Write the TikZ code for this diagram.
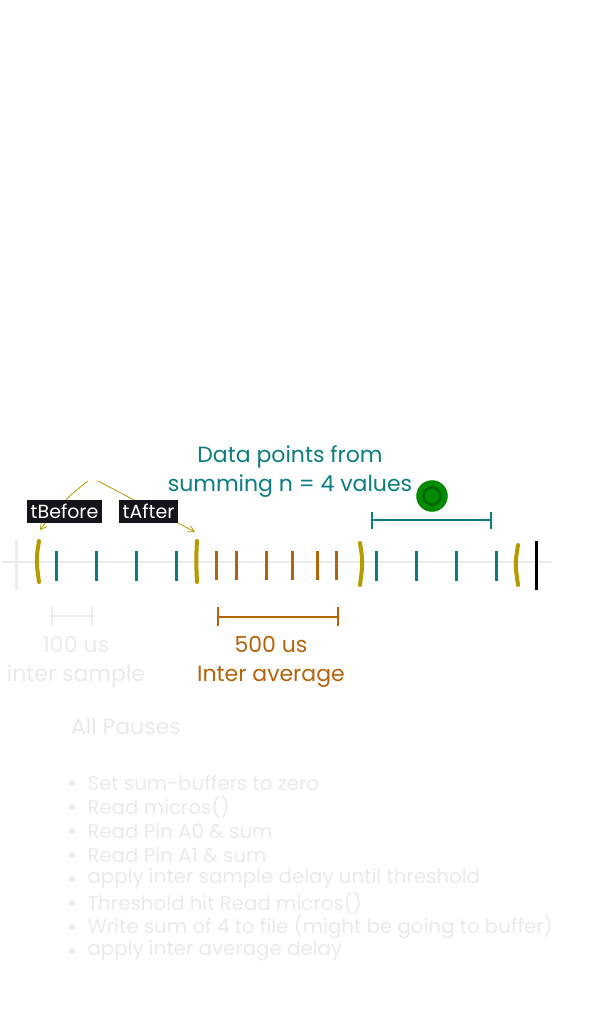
\documentclass[tikz,border=0pt]{standalone}
\usepackage{xcolor}
\usepackage{fontspec}
\setmainfont{Poppins}
\usepackage{tikz}
\usetikzlibrary{arrows.meta, positioning, calc}

\definecolor{goldline}{RGB}{181,155,0}
\definecolor{tealmark}{RGB}{11,125,128}
\definecolor{orangemark}{RGB}{182,98,10}
\definecolor{paleline}{RGB}{236,236,236}
\definecolor{paletext}{RGB}{234,234,234}
\definecolor{tagbg}{RGB}{22,19,27}
\definecolor{dotgreen}{RGB}{0,138,0}
\definecolor{dotring}{RGB}{0,95,0}

\tikzstyle{arrow} = [thick,goldline,-{Straight Barb[length=6pt,width=7pt]}]

\begin{document}
\begin{tikzpicture}[
    x=1pt, y=-1pt,
    tag/.style={fill=tagbg, text=white, inner xsep=3.5pt, inner ysep=1pt, minimum height=23pt, font=\fontsize{19}{20}\selectfont},
    note/.style={align=center, font=\fontsize{22}{29}\selectfont},
    tick/.style={line width=3pt},
    bracket/.style={line width=2.2pt},
    item/.style={anchor=west, text=paletext, font=\fontsize{19.8}{22}\selectfont}
]
\useasboundingbox (0,0) rectangle (590,1019);

% timeline
\draw[paleline, line width=2.5pt] (2,562) -- (552,562);
\draw[paleline, line width=3pt] (16,540) -- (16,590);
\draw[black, line width=3pt] (536,541) -- (536,590);

% yellow markers
\draw[goldline, line width=4pt, line cap=round] (39,541) .. controls (36,560) .. (39,582);
\draw[goldline, line width=4pt, line cap=round] (197,541) .. controls (196,560) .. (197,582);
\draw[goldline, line width=4pt, line cap=round] (360,543) .. controls (363,562) .. (360,585);
\draw[goldline, line width=4pt, line cap=round] (518,545) .. controls (515,564) .. (518,585);

% sample ticks
\foreach \x in {56,96,136,176,376,416,456,496}
    \draw[tick, tealmark] (\x,551) -- (\x,581);
\foreach \x in {216,236,266,292,317,336}
    \draw[tick, orangemark] (\x,551) -- (\x,580);

% arrows, then tags on top
\coordinate (fromL) at (88,481);
\coordinate (fromR) at (98,481);
\coordinate (markL) at (40,530);
\coordinate (markR) at (195,532);
\draw[arrow] (fromL) to[bend right=8] (markL);
\draw[arrow] (fromR) -- (markR);
\node[tag] (before) at (64.5,511.5) {tBefore};
\node[tag] (after) at (148.5,511.5) {tAfter};

% teal note and group
\node[note, text=tealmark] (datapts) at (290,472) {Data points from\\summing n = 4 values};
\node[circle, fill=dotgreen, draw=dotgreen, minimum size=31pt, inner sep=0pt] (dot) at (432,496) {};
\node[circle, draw=dotring, line width=2pt, minimum size=17pt, inner sep=0pt] at (dot) {};
\draw[bracket, tealmark] (372,520) -- (491,520);
\draw[bracket, tealmark] (372,512) -- (372,529);
\draw[bracket, tealmark] (491,512) -- (491,529);

% pauses
\draw[bracket, paleline] (52,616) -- (92,616);
\draw[bracket, paleline] (52,607) -- (52,625);
\draw[bracket, paleline] (92,607) -- (92,625);
\node[note, text=paletext] (sample) at (76,662) {100 us\\inter sample};
\draw[bracket, orangemark] (218,617) -- (338,617);
\draw[bracket, orangemark] (218,607) -- (218,626);
\draw[bracket, orangemark] (338,607) -- (338,626);
\node[note, text=orangemark] (average) at (271,662) {500 us\\Inter average};

% list
\node[note, text=paletext] (pauses) at (126,726) {All Pauses};
\foreach \txt [count=\i] in {Set sum-buffers to zero, Read micros(), Read Pin A0 \& sum,
    Read Pin A1 \& sum, apply inter sample delay until threshold,
    Threshold hit Read micros(), Write sum of 4 to file (might be going to buffer),
    apply inter average delay} {
    \fill[paletext] (72,759+24*\i) circle (3pt);
    \node[item] (line\i) at (84,759+24*\i) {\txt};
}
\end{tikzpicture}
\end{document}
